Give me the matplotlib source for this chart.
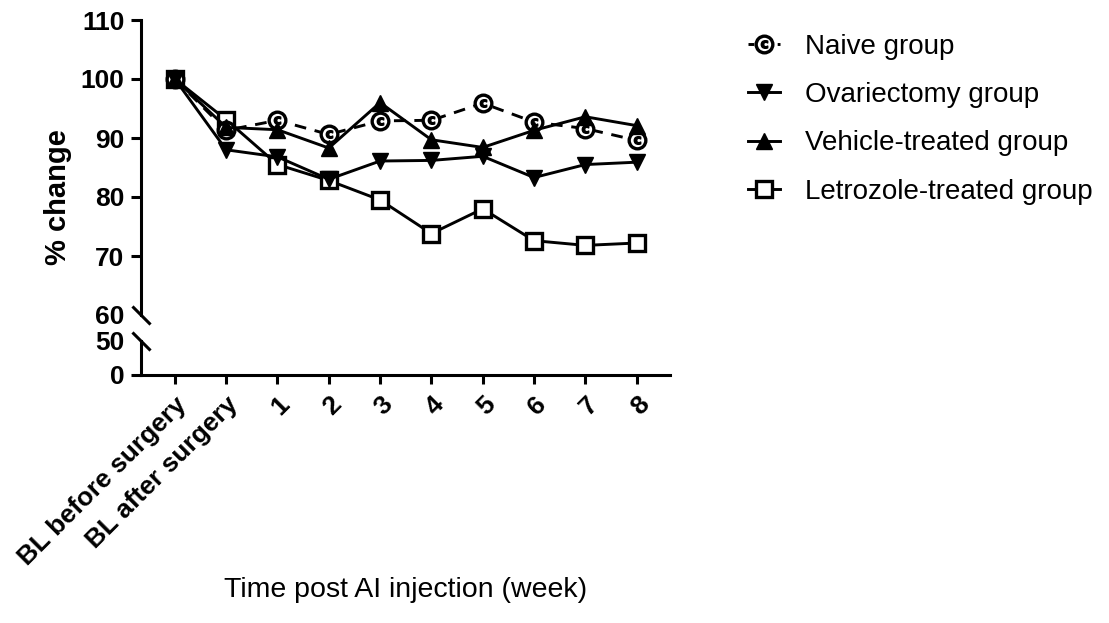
import matplotlib.pyplot as plt
from matplotlib.lines import Line2D
from matplotlib.legend_handler import HandlerTuple

plt.rcParams['font.family'] = ['Liberation Sans', 'DejaVu Sans']

# data
tick_labels = ["BL before surgery", "BL after surgery", "1", "2", "3", "4", "5", "6", "7", "8"]
naive = [100, 91.3, 93.0, 90.6, 92.9, 93.0, 95.9, 92.7, 91.6, 89.6]
ovx = [100, 88.0, 86.8, 83.0, 86.1, 86.2, 86.9, 83.3, 85.5, 85.9]
vehicle = [100, 91.8, 91.4, 88.3, 96.0, 89.7, 88.4, 91.3, 93.6, 92.1]
letrozole = [100, 93.1, 85.5, 82.8, 79.5, 73.8, 78.0, 72.6, 71.8, 72.2]
labels = ["Naive group", "Ovariectomy group", "Vehicle-treated group", "Letrozole-treated group"]

x = list(range(len(tick_labels)))

fig = plt.figure(figsize=(11.09, 6.23), dpi=100)
W, H = 1109, 623
left, right = 141 / W, 670 / W
ax = fig.add_axes([left, 1 - 315 / H, right - left, (315 - 20) / H])
ax2 = fig.add_axes([left, 1 - 375 / H, right - left, (375 - 341) / H], sharex=ax)

lw = 2.1
spw = 2.2
mew = 2.4

# squares and circles underneath, triangles on top
ax.plot(x, letrozole, color='black', lw=lw, marker='s', ms=12, mfc='white',
        mec='black', mew=mew, zorder=3)
ax.plot(x, naive, color='black', lw=lw, ls=(0, (4, 3)), marker='o', ms=12,
        mfc='white', mec='black', mew=mew, zorder=3)
ax.plot(x, naive, ls='none', marker=r'$\mathbf{c}$', ms=5.5, color='black', zorder=3)
ax.plot(x, ovx, color='black', lw=lw, marker='v', ms=11, zorder=4)
ax.plot(x, vehicle, color='black', lw=lw, marker='^', ms=11, zorder=4)

ax.set_xlim(-0.66, 9.65)
ax.set_ylim(60, 110)
ax2.set_ylim(0, 50)

ax.set_yticks([60, 70, 80, 90, 100, 110])
ax2.set_yticks([0, 50])

for a in (ax, ax2):
    for s in ['top', 'right']:
        a.spines[s].set_visible(False)
    a.spines['left'].set_linewidth(spw)
    a.tick_params(axis='y', direction='out', length=7, width=spw, pad=5,
                  labelsize=19)
    for t in a.get_yticklabels():
        t.set_fontweight('bold')
ax.spines['bottom'].set_visible(False)
ax2.spines['bottom'].set_linewidth(spw)
ax.tick_params(axis='x', bottom=False, labelbottom=False)
ax2.tick_params(axis='x', direction='out', length=6.5, width=spw, pad=6, labelsize=19)

# hide ticks at the break
ax.yaxis.get_major_ticks()[0].tick1line.set_visible(False)
ax2.yaxis.get_major_ticks()[1].tick1line.set_visible(False)

ax2.set_xticks(x)
ax2.set_xticklabels(tick_labels, rotation=45, ha='right', va='top',
                    rotation_mode='anchor', fontweight='bold')

# break marks
kw = dict(marker=[(-1, 1), (1, -1)], markersize=13, linestyle='none',
          color='black', mec='black', mew=spw, clip_on=False)
ax.plot([0], [0], transform=ax.transAxes, **kw)
ax2.plot([0], [1], transform=ax2.transAxes, **kw)

ax.set_ylabel("% change", fontsize=21, fontweight='bold')
ax.yaxis.set_label_coords(-0.13, 0.4)
fig.text((141 + 670) / 2 / W, 1 - 590 / H, "Time post AI injection (week)",
         fontsize=20.5, ha='center', va='center')

# legend
h_naive = (Line2D([], [], color='black', lw=lw, ls=(0, (2, 3)), marker='o', ms=12,
                  mfc='white', mec='black', mew=mew),
           Line2D([], [], ls='none', marker=r'$\mathbf{c}$', ms=5.5, color='black'))
h_ovx = Line2D([], [], color='black', lw=lw, marker='v', ms=11)
h_veh = Line2D([], [], color='black', lw=lw, marker='^', ms=11)
h_let = Line2D([], [], color='black', lw=lw, marker='s', ms=12, mfc='white',
               mec='black', mew=mew)
fig.legend([h_naive, h_ovx, h_veh, h_let], labels,
           handler_map={tuple: HandlerTuple(ndivide=1, pad=0)},
           loc='upper left', bbox_to_anchor=(748 / W, 1 - 34 / H),
           frameon=False, fontsize=20, handlelength=1.15, handletextpad=0.9,
           labelspacing=0.8, borderpad=0, borderaxespad=0)

fig.savefig("out.png", dpi=100)
